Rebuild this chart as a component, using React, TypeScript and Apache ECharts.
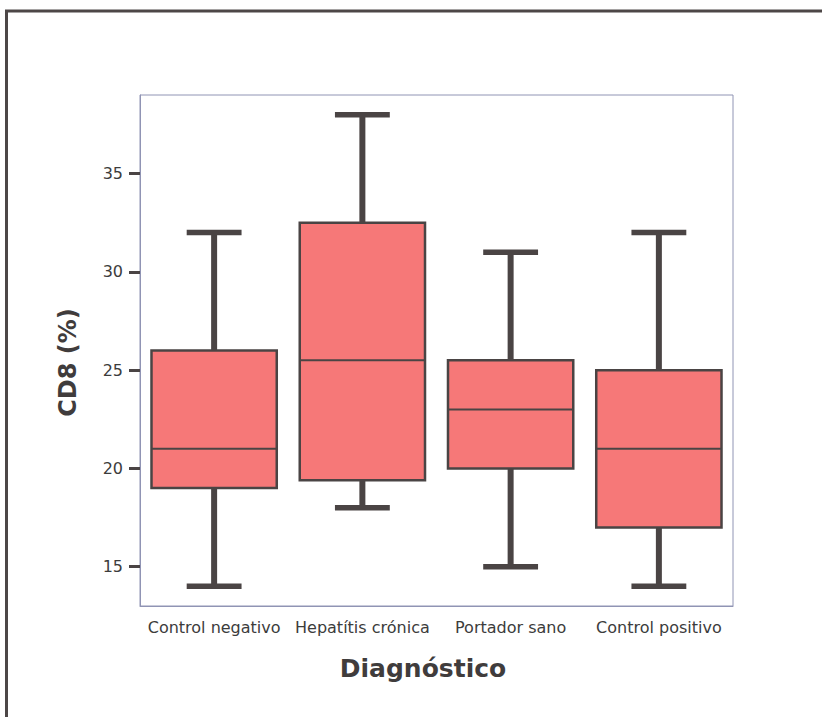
import React, { useEffect, useRef } from 'react';
import * as echarts from 'echarts';

const categories = ['Control negativo', 'Hepatítis crónica', 'Portador sano', 'Control positivo'];
const whiskerLow = [14, 18, 15, 14];
const quartile1 = [19, 19.4, 20, 17];
const medians = [21, 25.5, 23, 21];
const quartile3 = [26, 32.5, 25.5, 25];
const whiskerHigh = [32, 38, 31, 32];
const yTicks = [15, 20, 25, 30, 35];
const xTitle = 'Diagnóstico';
const yTitle = 'CD8 (%)';

const DARK = '#4a4444';
const FILL = '#f67878';
const AXIS = '#9094b4';
const FONT = '"DejaVu Sans", Verdana, sans-serif';

export default function App() {
  const ref = useRef<HTMLDivElement>(null);
  useEffect(() => {
    if (!ref.current) return;
    const chart = echarts.init(ref.current, undefined, { renderer: 'svg' });
    const data = categories.map((_, i) => [i, whiskerLow[i], quartile1[i], medians[i], quartile3[i], whiskerHigh[i]]);
    chart.setOption({
      animation: false,
      backgroundColor: '#ffffff',
      grid: { left: 140, right: 89, top: 95, bottom: 111, show: true, borderColor: AXIS, borderWidth: 1 },
      xAxis: {
        type: 'category',
        data: categories,
        name: xTitle,
        nameLocation: 'middle',
        nameGap: 50,
        nameTextStyle: { fontFamily: FONT, fontWeight: 'bold', fontSize: 25, color: '#403c3c', padding: [0, 27, 0, 0] },
        axisLine: { lineStyle: { color: AXIS, width: 1 } },
        axisTick: { alignWithLabel: true, length: 9, lineStyle: { color: DARK, width: 3 } },
        axisLabel: { interval: 0, margin: 13, fontFamily: FONT, fontSize: 16, color: '#3c3c3c' },
        splitLine: { show: false },
      },
      yAxis: {
        type: 'value',
        min: 13,
        max: 39,
        name: yTitle,
        nameLocation: 'middle',
        nameGap: 60,
        nameTextStyle: { fontFamily: FONT, fontWeight: 'bold', fontSize: 24, color: '#403c3c', padding: [0, 24, 0, 0] },
        axisLine: { show: true, lineStyle: { color: AXIS, width: 1 } },
        axisTick: { show: true, customValues: yTicks, length: 11, lineStyle: { color: DARK, width: 3 } },
        axisLabel: { customValues: yTicks, margin: 17, fontFamily: FONT, fontSize: 16, color: '#3c3c3c' },
        splitLine: { show: false },
      },
      graphic: [
        { type: 'line', shape: { x1: 5, y1: 11, x2: 822, y2: 11 }, style: { stroke: '#4d4747', lineWidth: 3 } },
        { type: 'line', shape: { x1: 6.5, y1: 10, x2: 6.5, y2: 717 }, style: { stroke: '#4d4747', lineWidth: 3 } },
      ],
      series: [
        {
          type: 'custom',
          data,
          encode: { x: 0, y: [1, 2, 3, 4, 5] },
          renderItem: (params: any, api: any) => {
            const idx = api.value(0);
            const lo = api.coord([idx, api.value(1)]);
            const q1 = api.coord([idx, api.value(2)]);
            const med = api.coord([idx, api.value(3)]);
            const q3 = api.coord([idx, api.value(4)]);
            const hi = api.coord([idx, api.value(5)]);
            const band = api.size([1, 0])[0];
            const bw = band * 0.845;
            const cw = band * 0.37;
            const cx = lo[0];
            return {
              type: 'group',
              children: [
                { type: 'line', shape: { x1: cx, y1: hi[1], x2: cx, y2: q3[1] }, style: { stroke: DARK, lineWidth: 6 } },
                { type: 'line', shape: { x1: cx, y1: q1[1], x2: cx, y2: lo[1] }, style: { stroke: DARK, lineWidth: 6 } },
                { type: 'line', shape: { x1: cx - cw / 2, y1: hi[1], x2: cx + cw / 2, y2: hi[1] }, style: { stroke: DARK, lineWidth: 5.5 } },
                { type: 'line', shape: { x1: cx - cw / 2, y1: lo[1], x2: cx + cw / 2, y2: lo[1] }, style: { stroke: DARK, lineWidth: 5.5 } },
                {
                  type: 'rect',
                  shape: { x: cx - bw / 2, y: q3[1], width: bw, height: q1[1] - q3[1] },
                  style: { fill: FILL, stroke: DARK, lineWidth: 2.5 },
                },
                { type: 'line', shape: { x1: cx - bw / 2, y1: med[1], x2: cx + bw / 2, y2: med[1] }, style: { stroke: DARK, lineWidth: 2 } },
              ],
            };
          },
        },
      ],
    });
    return () => chart.dispose();
  }, []);
  return <div ref={ref} style={{ position: 'fixed', left: 0, top: 0, width: 822, height: 717 }} />;
}
